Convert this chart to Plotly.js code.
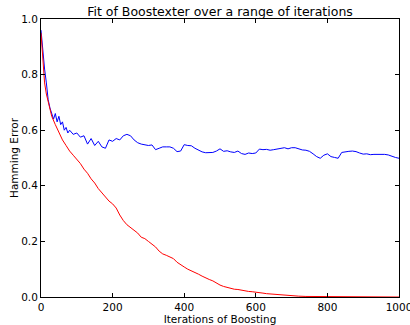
<!DOCTYPE html>
<html>
<head>
<meta charset="utf-8">
<script src="https://cdn.plot.ly/plotly-3.0.1.min.js"></script>
<style>html,body{margin:0;padding:0;background:#fff;}#chart{width:410px;height:325px;}</style>
</head>
<body>
<div id="chart"></div>
<script>
var trainIter = [0,5,10,15,20,30,40,50,60,70,80,90,100,110,120,130,140,150,160,170,180,190,200,210,220,230,240,250,260,270,280,290,300,310,320,330,340,350,360,370,380,390,400,410,420,430,440,450,460,470,480,490,500,510,520,530,540,550,560,570,580,590,600,610,620,630,640,650,660,670,680,690,700,720,740,760,780,800,830,860,900,950,1000];
var trainErr = [0.95,0.85,0.77,0.73,0.70,0.65,0.62,0.59,0.565,0.545,0.525,0.51,0.495,0.48,0.46,0.445,0.425,0.41,0.39,0.375,0.36,0.345,0.335,0.32,0.295,0.275,0.26,0.25,0.24,0.23,0.215,0.21,0.2,0.19,0.18,0.165,0.155,0.15,0.145,0.138,0.125,0.115,0.108,0.1,0.094,0.09,0.082,0.075,0.068,0.063,0.058,0.05,0.043,0.038,0.034,0.031,0.028,0.027,0.024,0.022,0.02,0.019,0.018,0.017,0.014,0.012,0.011,0.009,0.007,0.006,0.005,0.004,0.003,0.003,0.002,0.002,0.002,0.001,0.001,0.001,0.001,0.0005,0.0];

var testIter = [0,5,10,15,20,25,30,35,40,45,50,55,60,65,70,75,80,90,100,110,120,130,140,150,160,170,180,190,200,210,220,230,240,250,260,270,280,290,300,310,320,330,340,350,360,370,380,390,400,410,420,430,440,450,460,470,480,490,500,510,520,530,540,550,560,570,580,590,600,610,620,630,640,650,660,670,680,690,700,710,720,730,740,750,760,770,780,790,800,810,820,830,840,850,860,870,880,890,900,910,920,930,940,950,960,970,980,990,1000];
var testErr = [0.96,0.88,0.82,0.77,0.71,0.68,0.66,0.64,0.66,0.63,0.65,0.62,0.63,0.60,0.61,0.59,0.60,0.585,0.59,0.575,0.58,0.55,0.57,0.545,0.56,0.54,0.535,0.565,0.56,0.57,0.565,0.58,0.585,0.58,0.565,0.555,0.55,0.548,0.545,0.547,0.53,0.535,0.54,0.54,0.54,0.535,0.523,0.525,0.548,0.545,0.544,0.535,0.528,0.522,0.519,0.519,0.52,0.525,0.533,0.524,0.526,0.522,0.52,0.525,0.516,0.513,0.518,0.516,0.518,0.532,0.53,0.531,0.528,0.53,0.532,0.533,0.537,0.533,0.537,0.537,0.533,0.529,0.528,0.524,0.515,0.505,0.499,0.51,0.515,0.505,0.502,0.499,0.52,0.523,0.524,0.525,0.523,0.518,0.514,0.515,0.512,0.513,0.513,0.514,0.513,0.511,0.506,0.502,0.499];

var xTicks = [0,200,400,600,800,1000];
var yTicks = [0,0.2,0.4,0.6,0.8,1.0];

var font = {family: 'DejaVu Sans, sans-serif', size: 10.5, color: '#000'};
var axisBase = {
  showline: true, linecolor: '#000', linewidth: 1, mirror: 'ticks',
  ticks: 'inside', ticklen: 4, tickcolor: '#000', tickwidth: 1,
  showgrid: false, zeroline: false, tickfont: font, ticklabeloverflow: 'allow'
};

var data = [
  {x: testIter, y: testErr, mode: 'lines', line: {color: '#0000ff', width: 1}, hoverinfo: 'skip'},
  {x: trainIter, y: trainErr, mode: 'lines', line: {color: '#ff0000', width: 1}, hoverinfo: 'skip'}
];

var layout = {
  width: 410, height: 325,
  margin: {l: 41, r: 11, t: 19, b: 28},
  paper_bgcolor: '#fff', plot_bgcolor: '#fff',
  showlegend: false,
  font: font,
  title: {text: 'Fit of Boostexter over a range of iterations', font: {family: 'DejaVu Sans, sans-serif', size: 12.5, color: '#000'},
          x: 0.5, xref: 'paper', xanchor: 'center', y: 1 - 12/325, yref: 'container', yanchor: 'middle'},
  xaxis: Object.assign({}, axisBase, {range: [0, 1000], tickvals: xTicks, ticktext: xTicks.map(String),
          title: {text: 'Iterations of Boosting', font: font}}),
  yaxis: Object.assign({}, axisBase, {range: [0, 1], tickvals: yTicks, ticktext: yTicks.map(function(v){return v.toFixed(1);})}),
  annotations: [{
    text: 'Hamming Error', font: font, textangle: -90, showarrow: false,
    xref: 'paper', yref: 'paper', x: 0, y: 0.5, xanchor: 'center', yanchor: 'middle', xshift: -27
  }]
};

Plotly.newPlot('chart', data, layout, {displayModeBar: false, staticPlot: true});
</script>
</body>
</html>
